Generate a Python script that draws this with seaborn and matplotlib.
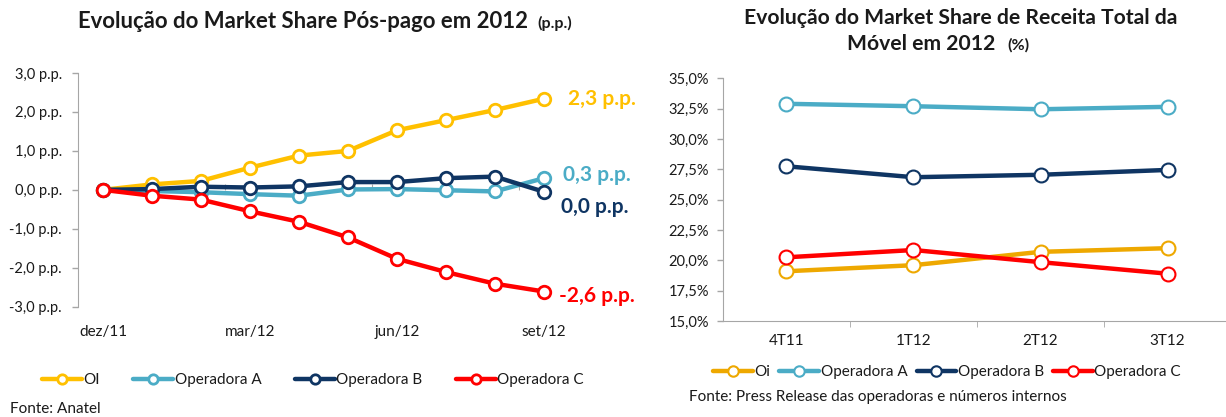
import matplotlib
matplotlib.use("Agg")
import matplotlib.pyplot as plt
import seaborn as sns
import numpy as np
import pandas as pd

# dados - grafico 1 (variacao do market share pos-pago, p.p.)
meses = ['dez/11', 'jan/12', 'fev/12', 'mar/12', 'abr/12', 'mai/12',
         'jun/12', 'jul/12', 'ago/12', 'set/12']
oi_pos = [0.0, 0.14, 0.23, 0.57, 0.88, 1.00, 1.53, 1.79, 2.05, 2.34]
opa_pos = [0.0, -0.03, -0.06, -0.11, -0.15, 0.01, 0.02, -0.01, -0.04, 0.30]
opb_pos = [0.0, 0.02, 0.08, 0.06, 0.09, 0.20, 0.20, 0.30, 0.34, -0.05]
opc_pos = [0.0, -0.15, -0.25, -0.55, -0.82, -1.22, -1.77, -2.11, -2.41, -2.61]
rotulos_fim = ['2,3 p.p.', '0,3 p.p.', '0,0 p.p.', '-2,6 p.p.']

# dados - grafico 2 (market share de receita total da movel, %)
trimestres = ['4T11', '1T12', '2T12', '3T12']
oi_rec = [19.1, 19.6, 20.7, 21.0]
opa_rec = [32.9, 32.7, 32.45, 32.65]
opb_rec = [27.75, 26.85, 27.05, 27.45]
opc_rec = [20.25, 20.85, 19.85, 18.9]

nomes_1 = ['OI', 'Operadora A', 'Operadora B', 'Operadora C']
nomes_2 = ['Oi', 'Operadora A', 'Operadora B', 'Operadora C']
cores_1 = ['#FFC000', '#4BACC6', '#0F3563', '#FF0000']
cores_2 = ['#EEA800', '#4BACC6', '#0F3563', '#FF0000']

sns.set_style('white')
plt.rcParams['font.family'] = ['Lato', 'DejaVu Sans']
cinza = '#A6A6A6'
txt = '#1A1A1A'

fig = plt.figure(figsize=(12.26, 4.17), dpi=100)

# ---------------- grafico 1 ----------------
ax1 = fig.add_axes([0.0640, 0.2645, 0.3997, 0.5604])
series_1 = [oi_pos, opa_pos, opb_pos, opc_pos]
for nome, vals, cor in zip(nomes_1, series_1, cores_1):
    df = pd.DataFrame({'x': np.arange(len(meses)), 'y': vals})
    sns.lineplot(data=df, x='x', y='y', ax=ax1, color=cor, lw=3.2, marker='o',
                 markersize=9, markerfacecolor='white', markeredgecolor=cor,
                 markeredgewidth=2, label=nome, zorder=3)

offsets = [(17, 0), (14, 2), (12, -11), (11, -3)]
for vals, rot, cor, off in zip(series_1, rotulos_fim, cores_1, offsets):
    ax1.annotate(rot, (len(meses) - 1, vals[-1]), xytext=off, textcoords='offset points',
                 ha='left', va='center', color=cor, fontsize=15, fontweight='bold')

ax1.set_xlim(-0.5, len(meses) - 0.5)
ax1.set_ylim(-3, 3)
ax1.set_yticks(np.arange(-3, 3.1, 1))
ax1.set_yticklabels([f'{v:.1f} p.p.'.replace('.', ',', 1) for v in np.arange(-3, 3.1, 1)])
ax1.set_xticks([0, 3, 6, 9])
ax1.set_xticklabels([meses[i] for i in [0, 3, 6, 9]])
ax1.tick_params(axis='x', length=0, pad=13, labelsize=11, labelcolor=txt)
ax1.tick_params(axis='y', length=4, width=1, color=cinza, direction='out', pad=8,
                labelsize=10.5, labelcolor=txt, left=True)
ax1.set_xlabel('')
ax1.set_ylabel('')
for s in ['top', 'right', 'bottom']:
    ax1.spines[s].set_visible(False)
ax1.spines['left'].set_color(cinza)
ax1.get_legend().remove()

# eixo de categorias sobre o zero
sec = ax1.secondary_xaxis(0.5)
sec.set_xticks([2.5, 5.5, 8.5])
sec.set_xticklabels([])
sec.tick_params(length=4, color=cinza, direction='out')
sec.spines['bottom'].set_color(cinza)
for s in ['top', 'left', 'right']:
    sec.spines[s].set_visible(False)

h1, l1 = ax1.get_legend_handles_labels()
fig.legend(h1, l1, loc='center', bbox_to_anchor=(313 / 1226, 1 - 380 / 417), ncol=4,
           frameon=False, fontsize=11, handlelength=2.6, columnspacing=2.2,
           handletextpad=0.1, labelcolor=txt, markerscale=0.75)

fig.text(78 / 1226, 1 - 22 / 417, 'Evolução do Market Share Pós-pago em 2012',
         ha='left', va='center', fontsize=15.9, fontweight='bold', color=txt)
fig.text(537 / 1226, 1 - 23 / 417, '(p.p.)', ha='left', va='center',
         fontsize=11.5, fontweight='bold', color=txt)
fig.text(10 / 1226, 1 - 409 / 417, 'Fonte: Anatel', ha='left', va='center',
         fontsize=11, color=txt)

# ---------------- grafico 2 ----------------
ax2 = fig.add_axes([0.5897, 0.2302, 0.4144, 0.5820])
series_2 = [oi_rec, opa_rec, opb_rec, opc_rec]
for nome, vals, cor in zip(nomes_2, series_2, cores_2):
    df = pd.DataFrame({'x': np.arange(len(trimestres)), 'y': vals})
    sns.lineplot(data=df, x='x', y='y', ax=ax2, color=cor, lw=3.2, marker='o',
                 markersize=10, markerfacecolor='white', markeredgecolor=cor,
                 markeredgewidth=1.5, label=nome, zorder=3)

ax2.set_xlim(-0.5, len(trimestres) - 0.5)
ax2.set_ylim(15, 35)
ticks2 = np.arange(15, 35.01, 2.5)
ax2.set_yticks(ticks2)
ax2.set_yticklabels([f'{v:.1f}%'.replace('.', ',') for v in ticks2])
ax2.set_xticks(range(len(trimestres)))
ax2.set_xticklabels(trimestres)
ax2.set_xticks([0.5, 1.5, 2.5], minor=True)
ax2.tick_params(axis='x', which='major', length=0, pad=9, labelsize=11, labelcolor=txt)
ax2.tick_params(axis='x', which='minor', length=4, color=cinza, direction='out', bottom=True)
ax2.tick_params(axis='y', length=4, width=1, color=cinza, direction='out', pad=6,
                labelsize=10.5, labelcolor=txt, left=True)
ax2.set_xlabel('')
ax2.set_ylabel('')
for s in ['top', 'right']:
    ax2.spines[s].set_visible(False)
ax2.spines['left'].set_color(cinza)
ax2.spines['bottom'].set_color(cinza)
ax2.get_legend().remove()

h2, l2 = ax2.get_legend_handles_labels()
fig.legend(h2, l2, loc='center', bbox_to_anchor=(947 / 1226, 1 - 372 / 417), ncol=4,
           frameon=False, fontsize=11, handlelength=2.6, columnspacing=0.6,
           handletextpad=0.1, labelcolor=txt, markerscale=0.75)

fig.text(961 / 1226, 1 - 18 / 417, 'Evolução do Market Share de Receita Total da',
         ha='center', va='center', fontsize=15.2, fontweight='bold', color=txt)
fig.text(995 / 1226, 1 - 44 / 417, 'Móvel em 2012', ha='right', va='center',
         fontsize=15.2, fontweight='bold', color=txt)
fig.text(1007 / 1226, 1 - 45 / 417, '(%)', ha='left', va='center',
         fontsize=11.5, fontweight='bold', color=txt)
fig.text(689 / 1226, 1 - 397 / 417, 'Fonte: Press Release das operadoras e números internos',
         ha='left', va='center', fontsize=11, color=txt)

fig.savefig('out.png', dpi=100)
